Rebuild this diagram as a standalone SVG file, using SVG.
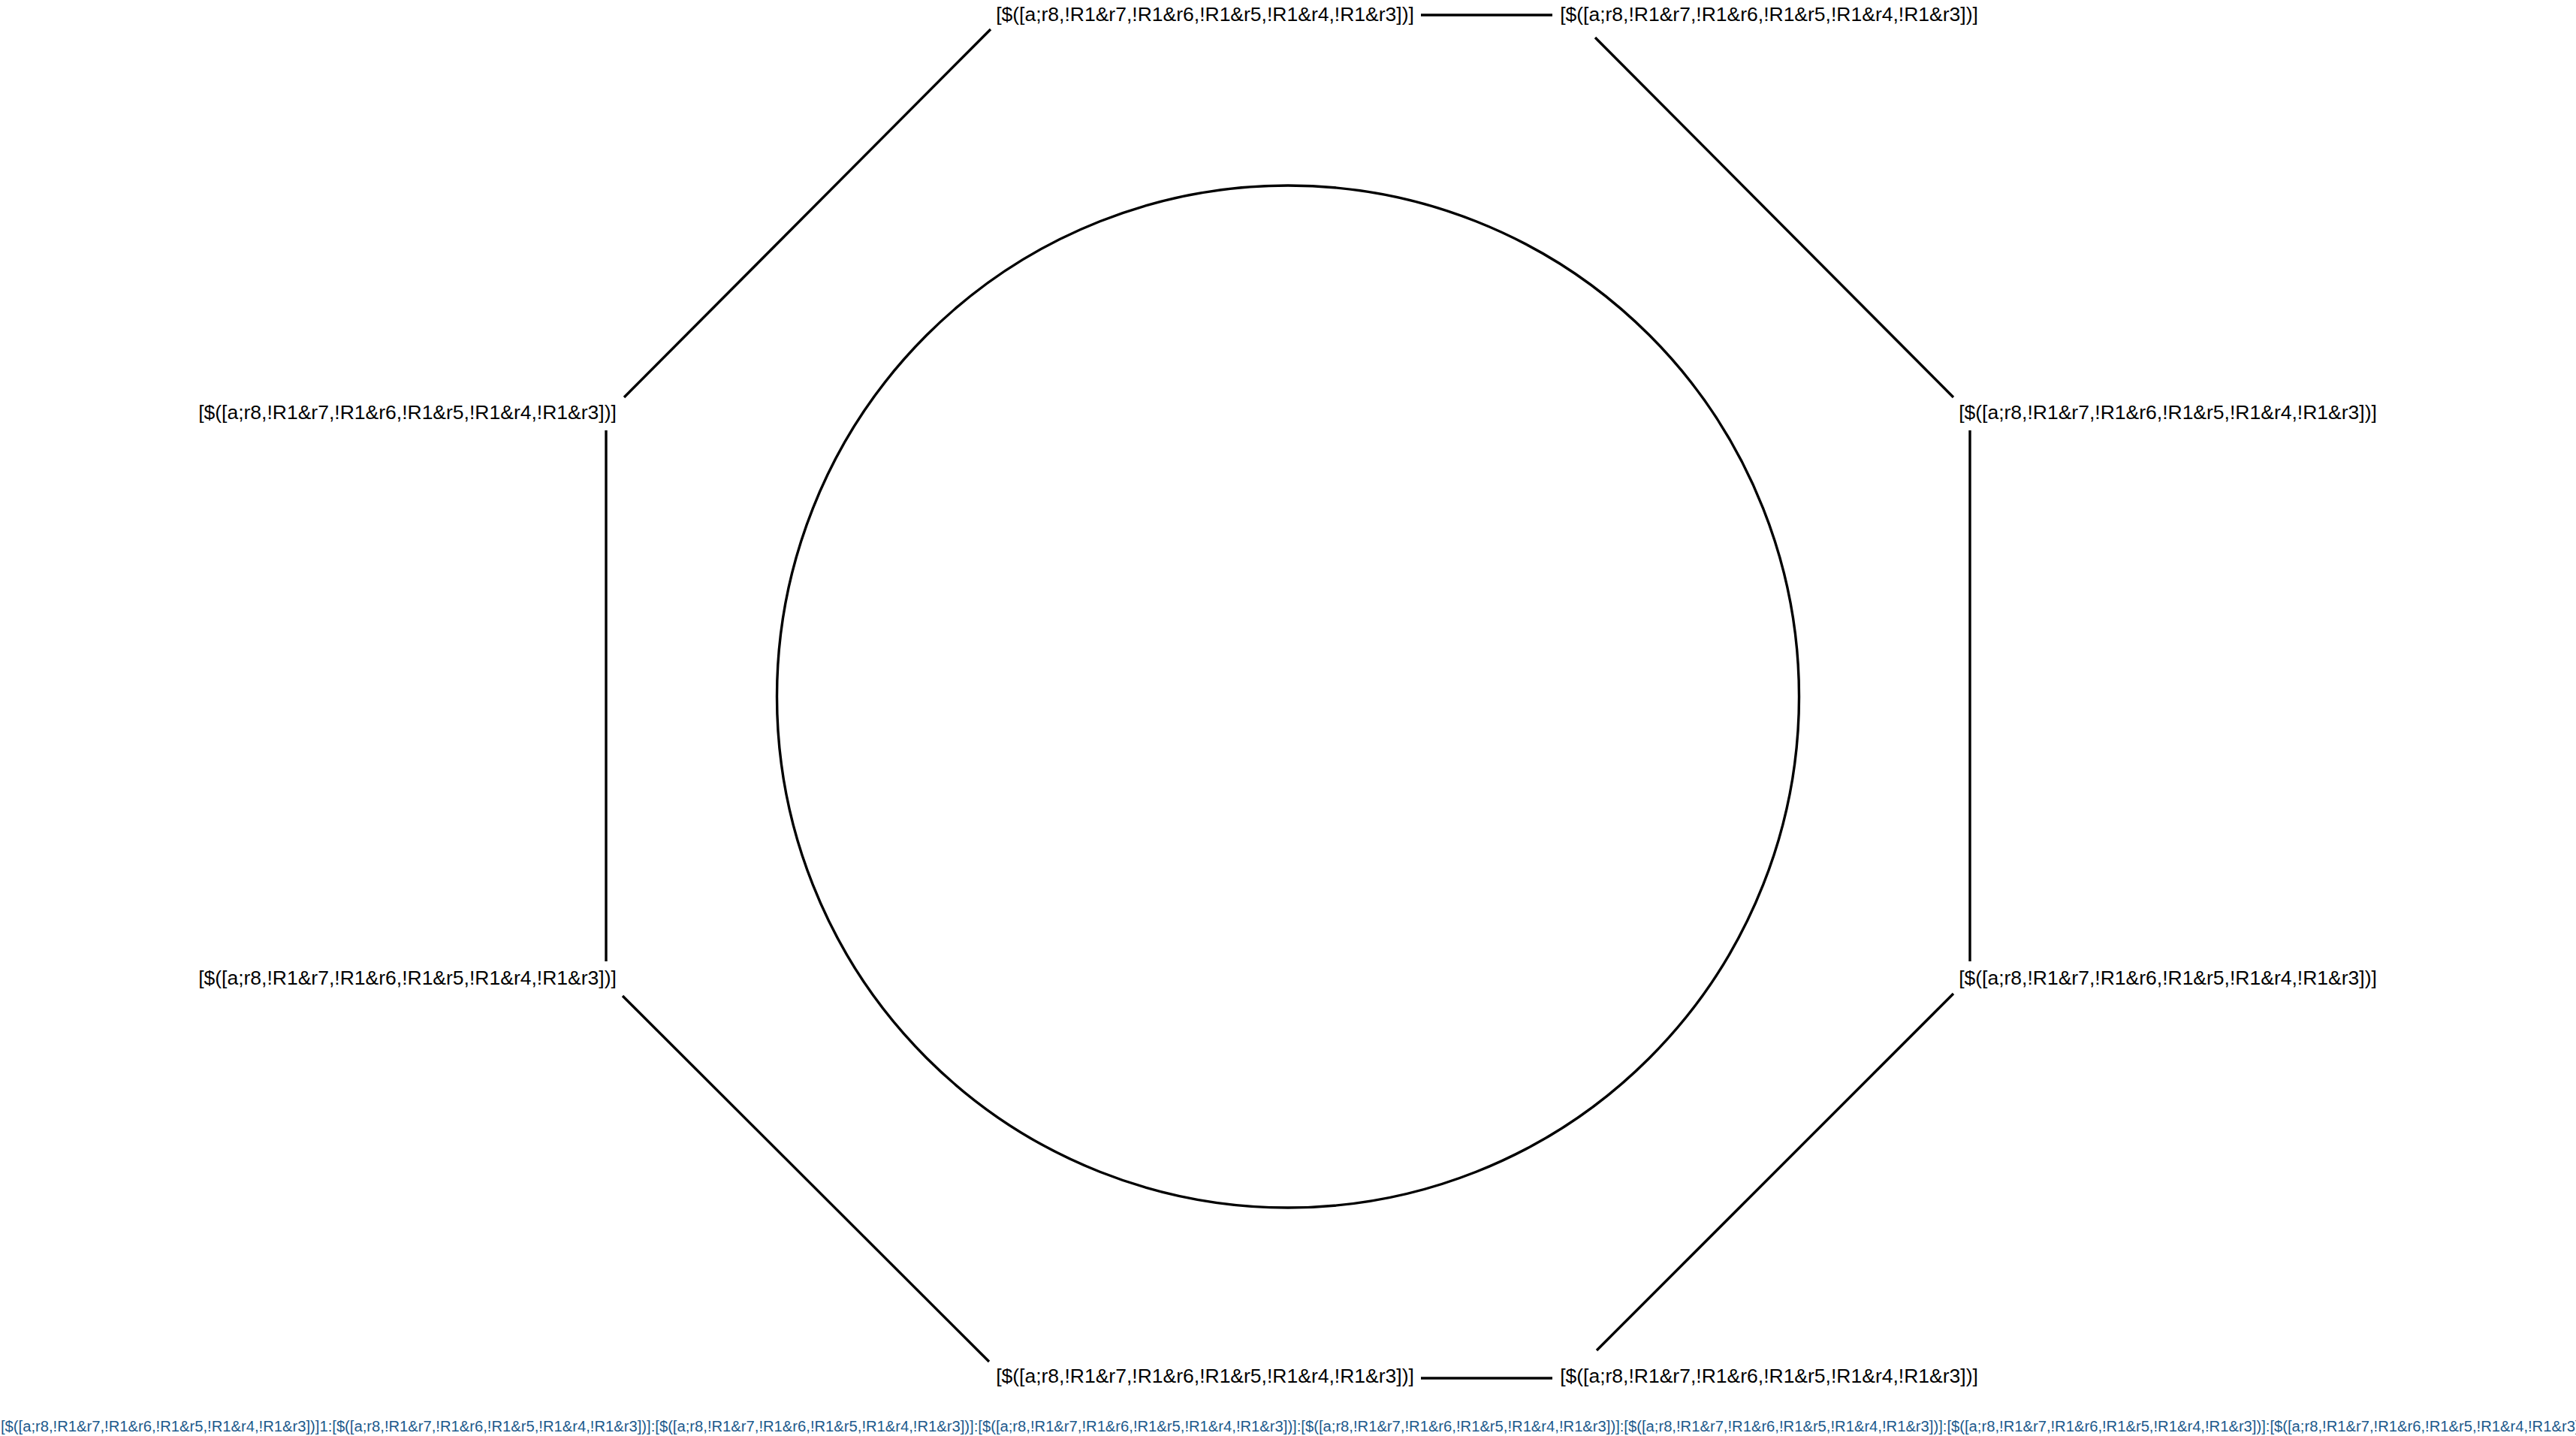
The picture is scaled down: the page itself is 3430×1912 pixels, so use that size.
<svg xmlns="http://www.w3.org/2000/svg" width="3430" height="1912" viewBox="0 0 3430 1912">
<style>
.lbl{font-family:"Liberation Sans",Arial,sans-serif;font-size:26.5px;fill:#000;text-anchor:middle}
.edge{stroke:#000;stroke-width:3.4;fill:none;stroke-linecap:butt}
.foot{font-family:"Liberation Sans",Arial,sans-serif;font-size:20.22px;fill:#1c5a8c}
</style>
<rect width="3430" height="1912" fill="#fff"/>
<g id="connectors">
<line class="edge" x1="1892" y1="20" x2="2067" y2="20"/>
<line class="edge" x1="1319" y1="39" x2="831" y2="529"/>
<line class="edge" x1="2124" y1="50" x2="2601" y2="529"/>
<line class="edge" x1="807" y1="573" x2="807" y2="1280"/>
<line class="edge" x1="2623" y1="573" x2="2623" y2="1280"/>
<line class="edge" x1="829" y1="1326" x2="1317" y2="1813"/>
<line class="edge" x1="2601" y1="1323" x2="2126" y2="1798"/>
<line class="edge" x1="1892" y1="1835" x2="2067" y2="1835"/>
</g>
<g id="ring"><circle cx="1715" cy="927.5" r="680.5" class="edge"/></g>
<g id="n1"><text class="lbl" x="1604.5" y="28">[$([a;r8,!R1&amp;r7,!R1&amp;r6,!R1&amp;r5,!R1&amp;r4,!R1&amp;r3])]</text></g>
<g id="n2"><text class="lbl" x="2355.5" y="28">[$([a;r8,!R1&amp;r7,!R1&amp;r6,!R1&amp;r5,!R1&amp;r4,!R1&amp;r3])]</text></g>
<g id="n3"><text class="lbl" x="2886.5" y="558">[$([a;r8,!R1&amp;r7,!R1&amp;r6,!R1&amp;r5,!R1&amp;r4,!R1&amp;r3])]</text></g>
<g id="n4"><text class="lbl" x="2886.5" y="1311">[$([a;r8,!R1&amp;r7,!R1&amp;r6,!R1&amp;r5,!R1&amp;r4,!R1&amp;r3])]</text></g>
<g id="n5"><text class="lbl" x="2355.5" y="1841">[$([a;r8,!R1&amp;r7,!R1&amp;r6,!R1&amp;r5,!R1&amp;r4,!R1&amp;r3])]</text></g>
<g id="n6"><text class="lbl" x="1604.5" y="1841">[$([a;r8,!R1&amp;r7,!R1&amp;r6,!R1&amp;r5,!R1&amp;r4,!R1&amp;r3])]</text></g>
<g id="n7"><text class="lbl" x="542.5" y="1311">[$([a;r8,!R1&amp;r7,!R1&amp;r6,!R1&amp;r5,!R1&amp;r4,!R1&amp;r3])]</text></g>
<g id="n8"><text class="lbl" x="542.5" y="558">[$([a;r8,!R1&amp;r7,!R1&amp;r6,!R1&amp;r5,!R1&amp;r4,!R1&amp;r3])]</text></g>
<g id="caption"><text class="foot" x="1" y="1906">[$([a;r8,!R1&amp;r7,!R1&amp;r6,!R1&amp;r5,!R1&amp;r4,!R1&amp;r3])]1:[$([a;r8,!R1&amp;r7,!R1&amp;r6,!R1&amp;r5,!R1&amp;r4,!R1&amp;r3])]:[$([a;r8,!R1&amp;r7,!R1&amp;r6,!R1&amp;r5,!R1&amp;r4,!R1&amp;r3])]:[$([a;r8,!R1&amp;r7,!R1&amp;r6,!R1&amp;r5,!R1&amp;r4,!R1&amp;r3])]:[$([a;r8,!R1&amp;r7,!R1&amp;r6,!R1&amp;r5,!R1&amp;r4,!R1&amp;r3])]:[$([a;r8,!R1&amp;r7,!R1&amp;r6,!R1&amp;r5,!R1&amp;r4,!R1&amp;r3])]:[$([a;r8,!R1&amp;r7,!R1&amp;r6,!R1&amp;r5,!R1&amp;r4,!R1&amp;r3])]:[$([a;r8,!R1&amp;r7,!R1&amp;r6,!R1&amp;r5,!R1&amp;r4,!R1&amp;r3])]</text></g>
</svg>
